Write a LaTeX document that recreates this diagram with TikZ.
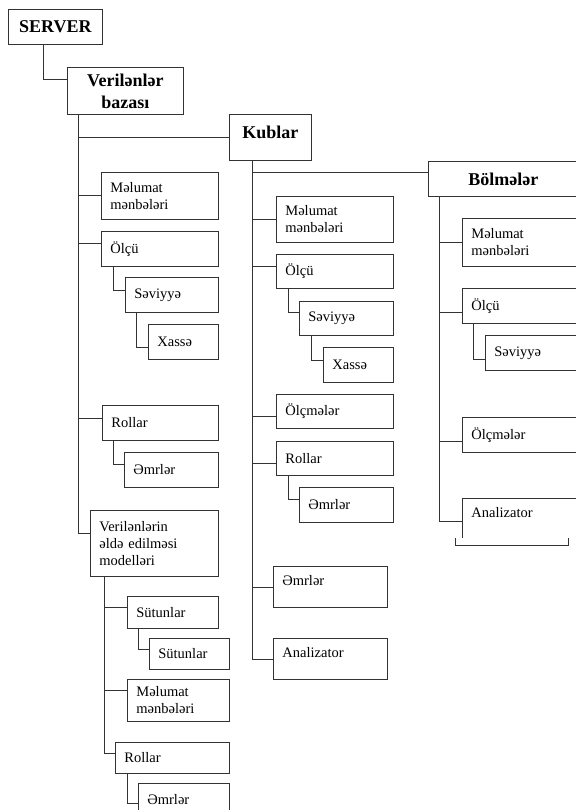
\documentclass[tikz,border=0pt]{standalone}
\usepackage{fontspec}
\setmainfont{Liberation Serif}

\begin{document}
\begin{tikzpicture}[
  x=1pt, y=-1pt,
  line width=0.8pt,
  item/.style={draw=black!80, anchor=north west, align=left, inner xsep=9pt,
               inner ysep=4pt, font=\fontsize{14.5}{17}\selectfont},
  head/.style={draw=black!80, anchor=north west, align=center, inner sep=3pt,
               font=\fontsize{18}{22}\selectfont\bfseries},
  topped/.style={text height=15pt, text depth=#1},
  link/.style={draw=black!80},
]
  \useasboundingbox (0,0) rectangle (575,810);

  % top level
  \node[head, minimum width=94pt, minimum height=35pt] (srv) at (8,9) {SERVER};
  \node[head, minimum width=116pt, minimum height=47pt] (db) at (67,67) {Verilənlər\\bazası};
  \node[head, minimum width=82pt, minimum height=46pt, text depth=10pt] (kub) at (229,114) {Kublar};
  \node[head, minimum width=150pt, minimum height=35pt] (bol) at (428,161) {Bölmələr};

  % database branch
  \node[item, text width=99pt, minimum height=47pt] (d1) at (101,172) {Məlumat\\mənbələri};
  \node[item, text width=99pt, minimum height=35pt] (d2) at (101,231) {Ölçü};
  \node[item, text width=75pt, minimum height=35pt] (d21) at (125,277) {Səviyyə};
  \node[item, text width=52pt, minimum height=35pt] (d211) at (148,324) {Xassə};
  \node[item, text width=98pt, minimum height=35pt] (d3) at (102,405) {Rollar};
  \node[item, text width=76pt, minimum height=35pt] (d31) at (124,452) {Əmrlər};
  \node[item, text width=110pt, minimum height=66pt] (d4) at (90,510) {Verilənlərin\\əldə edilməsi\\modelləri};
  \node[item, text width=73pt, minimum height=32pt] (d41) at (127,596) {Sütunlar};
  \node[item, text width=62pt, minimum height=31pt] (d411) at (149,638) {Sütunlar};
  \node[item, text width=84pt, minimum height=42pt] (d42) at (127,679) {Məlumat\\mənbələri};
  \node[item, text width=96pt, minimum height=31pt] (d43) at (115,742) {Rollar};
  \node[item, text width=73pt, minimum height=32pt] (d431) at (138,783) {Əmrlər};

  % cubes branch
  \node[item, text width=99pt, minimum height=46pt] (k1) at (276,196) {Məlumat\\mənbələri};
  \node[item, text width=99pt, minimum height=34pt] (k2) at (276,254) {Ölçü};
  \node[item, text width=76pt, minimum height=34pt] (k21) at (299,301) {Səviyyə};
  \node[item, text width=52pt, minimum height=35pt] (k211) at (323,347) {Xassə};
  \node[item, text width=99pt, minimum height=34pt] (k3) at (276,394) {Ölçmələr};
  \node[item, text width=99pt, minimum height=34pt] (k4) at (276,441) {Rollar};
  \node[item, text width=76pt, minimum height=35pt] (k41) at (299,487) {Əmrlər};
  \node[item, text width=96pt, topped=18pt] (k5) at (273,566) {Əmrlər};
  \node[item, text width=96pt, topped=18pt] (k6) at (273,638) {Analizator};

  % partitions branch
  \node[item, text width=110pt, minimum height=48pt] (b1) at (462,218) {Məlumat\\mənbələri};
  \node[item, text width=110pt, minimum height=35pt] (b2) at (462,288) {Ölçü};
  \node[item, text width=92pt, minimum height=35pt] (b21) at (485,335) {Səviyyə};
  \node[item, text width=110pt, minimum height=35pt] (b3) at (462,417) {Ölçmələr};
  \node[item, draw=none, text width=110pt, topped=16pt] (b4) at (462,498) {Analizator};
  \draw[link] (b4.south west) -- (b4.north west) -- (b4.north east);
  \draw[link] ([xshift=-7pt]b4.south west) -- ++(0,8) -- ++(113,0) -- ++(0,-8);

  % connectors
  \draw[link] (srv.south west) ++(35,0) |- ([yshift=11pt]db.west);
  \draw[link] (db.south west) ++(11,0) |- (kub.west);
  \draw[link] (kub.south west) ++(23,0) |- ([yshift=6pt]bol.west);

  \draw[link] (db.south west) ++(11,0) |- (d1.west);
  \draw[link] (db.south west) ++(11,0) |- ([yshift=6pt]d2.west);
  \draw[link] (db.south west) ++(11,0) |- ([yshift=5pt]d3.west);
  \draw[link] (db.south west) ++(11,0) |- ([yshift=10pt]d4.west);
  \draw[link] (d2.south west) ++(12,0) |- ([yshift=5pt]d21.west);
  \draw[link] (d21.south west) ++(11,0) |- ([yshift=-5pt]d211.west);
  \draw[link] (d3.south west) ++(11,0) |- ([yshift=6pt]d31.west);
  \draw[link] (d4.south west) ++(14,0) |- ([yshift=5pt]d41.west);
  \draw[link] (d4.south west) ++(14,0) |- ([yshift=10pt]d42.west);
  \draw[link] (d4.south west) ++(14,0) |- ([yshift=5pt]d43.west);
  \draw[link] (d41.south west) ++(11,0) |- ([yshift=5pt]d411.west);
  \draw[link] (d43.south west) ++(12,0) |- ([yshift=-4pt]d431.west);

  \draw[link] (kub.south west) ++(23,0) |- (k1.west);
  \draw[link] (kub.south west) ++(23,0) |- ([yshift=5pt]k2.west);
  \draw[link] (kub.south west) ++(23,0) |- ([yshift=-5pt]k3.west);
  \draw[link] (kub.south west) ++(23,0) |- ([yshift=-5pt]k4.west);
  \draw[link] (kub.south west) ++(23,0) |- (k5.west);
  \draw[link] (kub.south west) ++(23,0) |- (k6.west);
  \draw[link] (k2.south west) ++(12,0) |- ([yshift=6pt]k21.west);
  \draw[link] (k21.south west) ++(12,0) |- ([yshift=5pt]k211.west);
  \draw[link] (k4.south west) ++(12,0) |- ([yshift=6pt]k41.west);

  \draw[link] (bol.south west) ++(11,0) |- (b1.west);
  \draw[link] (bol.south west) ++(11,0) |- ([yshift=-6pt]b2.west);
  \draw[link] (bol.south west) ++(11,0) |- ([yshift=-6pt]b3.west);
  \draw[link] (bol.south west) ++(11,0) |- ([yshift=-3pt]b4.west);
  \draw[link] (b2.south west) ++(11,0) |- ([yshift=-6pt]b21.west);
\end{tikzpicture}
\end{document}
